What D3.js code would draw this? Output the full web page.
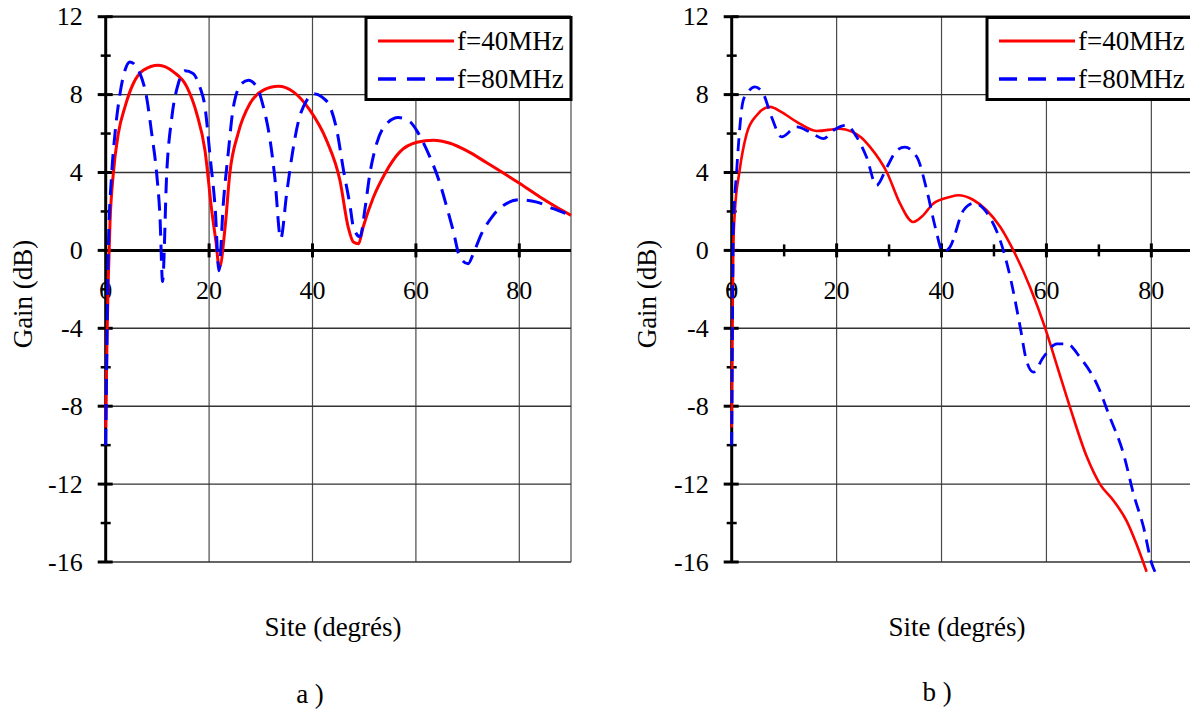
<!DOCTYPE html>
<html><head><meta charset="utf-8">
<script src="https://cdn.jsdelivr.net/npm/d3@7"></script>
<style>html,body{margin:0;padding:0;background:#fff;overflow:hidden}</style>
</head><body><svg id="c" width="1190" height="709"></svg>
<script>
// ---------- data ----------
const xTickLabels = [0, 20, 40, 60, 80];
const yTickLabels = [12, 8, 4, 0, -4, -8, -12, -16];
const seriesNames = ["f=40MHz", "f=80MHz"];
const panelLabels = ["a )", "b )"];
const xTitle = "Site (degrés)";
const yTitle = "Gain (dB)";

// panel a, f = 40 MHz
const siteA40 = [0, 0.25, 0.5, 0.83, 1.47, 2.44, 3.73, 5.34, 7.27, 10.2, 13.1, 15.7, 17.6, 19.2, 20.5, 21.3, 22.0, 23.1, 24.0, 25.6, 27.9, 30.5, 33.4, 36.3, 39.5, 42.7, 45.3, 46.9, 47.9, 48.9, 49.8, 51.8, 54.0, 56.9, 60.2, 63.4, 66.6, 69.8, 73.7, 77.6, 80.1, 84.0, 87.0, 90];
const gainA40 = [-9.1, -4.5, -1.5, 1.4, 3.94, 6.0, 7.37, 8.57, 9.25, 9.51, 9.17, 8.4, 7.03, 5.14, 2.06, 0.5, -0.9, 1.2, 3.94, 6.0, 7.54, 8.23, 8.43, 8.14, 7.2, 5.66, 3.6, 1.2, 0.43, 0.34, 1.2, 2.74, 3.94, 5.06, 5.55, 5.66, 5.5, 5.12, 4.5, 3.86, 3.43, 2.74, 2.25, 1.8];
// panel a, f = 80 MHz
const siteA80 = [0, 0.25, 0.5, 1.16, 1.8, 2.77, 3.73, 4.7, 6.63, 7.9, 8.9, 9.86, 10.5, 11.0, 11.8, 12.8, 14.05, 15.3, 16.9, 18.2, 19.2, 20.2, 21.2, 21.9, 22.75, 23.7, 24.7, 26.3, 27.6, 29.2, 30.5, 31.8, 32.7, 33.85, 35.0, 36.0, 37.25, 38.9, 40.2, 41.8, 43.4, 44.7, 46.0, 47.3, 47.9, 49.2, 50.2, 51.1, 52.4, 54.35, 56.6, 58.9, 60.5, 62.7, 64.7, 66.0, 67.2, 68.5, 70.1, 71.1, 72.7, 74.7, 76.9, 80.1, 83.4, 86.6, 90];
const gainA80 = [-10, -4.5, 0, 3.94, 6.0, 8.05, 9.25, 9.68, 9.08, 7.88, 6.0, 3.94, 1.71, -1.6, 3.94, 6.85, 8.57, 9.22, 9.08, 8.4, 7.37, 4.8, 2.06, -1.05, 2.4, 5.0, 7.37, 8.57, 8.74, 8.4, 7.37, 5.66, 3.77, 0.6, 2.91, 4.8, 6.6, 7.71, 8.05, 7.88, 7.37, 6.17, 4.11, 2.23, 1.2, 0.7, 2.23, 3.94, 5.48, 6.51, 6.82, 6.6, 6.0, 4.8, 3.4, 2.2, 1.03, -0.34, -0.69, -0.17, 0.86, 1.71, 2.31, 2.6, 2.48, 2.14, 1.8];
// panel b, f = 40 MHz
const siteB40 = [0, 0.15, 0.3, 0.6, 1.45, 2.86, 4.77, 7.3, 9.5, 12.4, 16.2, 20.6, 22.9, 24.7, 26.4, 29.6, 32.1, 34.6, 36.5, 38.4, 41.6, 43.2, 46.0, 48.6, 51.2, 53.7, 56.9, 59.7, 62.1, 64.5, 67.7, 70.2, 72.8, 75.3, 77.2, 79.1];
const gainB40 = [-9.1, -4, 0, 2.0, 4.0, 6.0, 6.94, 7.37, 7.1, 6.6, 6.13, 6.25, 6.1, 5.8, 5.3, 4.0, 2.4, 1.46, 1.8, 2.4, 2.74, 2.83, 2.6, 2.06, 1.2, 0, -1.9, -3.94, -6.0, -8.06, -10.6, -12.0, -12.85, -13.9, -15.1, -16.5];
// panel b, f = 80 MHz
const siteB80 = [0, 0.15, 0.3, 0.95, 2.2, 3.3, 4.4, 6.0, 7.6, 9.5, 12.4, 14.9, 17.5, 19.4, 21.9, 23.8, 25.7, 27.6, 29.6, 31.5, 33.0, 35.3, 37.2, 38.8, 40.3, 41.6, 44.2, 46.2, 49.2, 51.2, 53.1, 55.0, 56.2, 57.5, 59.4, 62.0, 63.9, 66.4, 69.6, 72.1, 74.7, 76.6, 78.5, 80.1, 80.7];
const gainB80 = [-10, -4, 1.0, 4.1, 7.7, 8.2, 8.4, 8.05, 6.85, 5.83, 6.34, 6.08, 5.74, 6.17, 6.43, 5.83, 4.8, 3.34, 4.28, 5.14, 5.3, 4.8, 3.08, 1.2, -0.09, 0.17, 2.06, 2.42, 1.7, 0.5, -1.37, -3.94, -5.66, -6.25, -5.49, -4.8, -4.8, -5.49, -6.85, -8.57, -10.45, -12.5, -14.2, -16.1, -16.5];

// ---------- drawing ----------
const FONT = "'Liberation Serif','Times New Roman',serif";
const svg = d3.select("#c");
svg.append("rect").attr("width", 1190).attr("height", 709).attr("fill", "#fff");

function zip(a, b) { return a.map((v, i) => [v, b[i]]); }

function panel(cfg) {
  const g = svg.append("g");
  const x = d3.scaleLinear().domain([0, 90]).range([cfg.x0, cfg.x1]);
  const y = d3.scaleLinear().domain([-16, 12]).range([562, 16.7]);
  const X0 = x(0), Y0 = y(0);

  // vertical grid
  g.selectAll(".vg").data([20, 40, 60, 80, 90]).join("line")
    .attr("x1", d => x(d)).attr("x2", d => x(d))
    .attr("y1", y(12)).attr("y2", y(-16))
    .attr("stroke", "#4a4a4a").attr("stroke-width", 1.2);
  // horizontal grid
  g.selectAll(".hg").data([8, 4, -4, -8, -12, -16]).join("line")
    .attr("x1", X0).attr("x2", x(90))
    .attr("y1", d => y(d)).attr("y2", d => y(d))
    .attr("stroke", "#333").attr("stroke-width", 1.4);
  g.append("line").attr("x1", X0).attr("x2", x(90)).attr("y1", y(12)).attr("y2", y(12))
    .attr("stroke", "#111").attr("stroke-width", 2.2);

  // x tick labels
  g.selectAll(".xl").data(xTickLabels).join("text")
    .attr("x", d => x(d)).attr("y", 290)
    .attr("text-anchor", "middle").attr("dominant-baseline", "central")
    .attr("font-family", FONT).attr("font-size", 26).attr("fill", "#000")
    .text(d => d);
  // y tick labels
  g.selectAll(".yl").data(yTickLabels).join("text")
    .attr("x", X0 - 23).attr("y", d => y(d))
    .attr("text-anchor", "end").attr("dominant-baseline", "central")
    .attr("font-family", FONT).attr("font-size", 26).attr("fill", "#000")
    .text(d => d);

  // axes
  g.append("line").attr("x1", X0).attr("x2", x(90)).attr("y1", Y0).attr("y2", Y0)
    .attr("stroke", "#000").attr("stroke-width", 3);
  g.append("line").attr("x1", X0).attr("x2", X0).attr("y1", y(12)).attr("y2", y(-16))
    .attr("stroke", "#000").attr("stroke-width", 3);
  // y ticks
  const yMaj = d3.range(-16, 13, 4), yMin = d3.range(-14, 12, 4);
  g.selectAll(".ytm").data(yMaj).join("line")
    .attr("x1", X0 - 8).attr("x2", X0 + 7).attr("y1", d => y(d)).attr("y2", d => y(d))
    .attr("stroke", "#000").attr("stroke-width", 3);
  g.selectAll(".ytn").data(yMin).join("line")
    .attr("x1", X0 - 5).attr("x2", X0 + 5).attr("y1", d => y(d)).attr("y2", d => y(d))
    .attr("stroke", "#000").attr("stroke-width", 2.5);
  // x ticks
  g.selectAll(".xtm").data([20, 40, 60, 80]).join("line")
    .attr("x1", d => x(d)).attr("x2", d => x(d)).attr("y1", Y0 - 7).attr("y2", Y0 + 7)
    .attr("stroke", "#000").attr("stroke-width", 3);
  if (cfg.minorX) {
    g.selectAll(".xtn").data([10, 30, 50, 70]).join("line")
      .attr("x1", d => x(d)).attr("x2", d => x(d)).attr("y1", Y0 - 6).attr("y2", Y0 + 6)
      .attr("stroke", "#000").attr("stroke-width", 2.5);
  }

  // series
  const line = d3.line().x(d => x(d[0])).y(d => y(d[1])).curve(d3.curveMonotoneX);
  g.append("path").datum(zip(cfg.s40, cfg.g40)).attr("d", line)
    .attr("fill", "none").attr("stroke", "#ff0000").attr("stroke-width", cfg.lw40);
  g.append("path").datum(zip(cfg.s80, cfg.g80)).attr("d", line)
    .attr("fill", "none").attr("stroke", "#0000ff").attr("stroke-width", cfg.lw80)
    .attr("stroke-dasharray", cfg.dash);

  // legend
  const L = cfg.legend;
  g.append("rect").attr("x", L.x).attr("y", 17.5).attr("width", L.w).attr("height", 82)
    .attr("fill", "#fff").attr("stroke", "#000").attr("stroke-width", 3);
  g.append("line").attr("x1", L.x + 12).attr("x2", L.x + 88).attr("y1", 41).attr("y2", 41)
    .attr("stroke", "#ff0000").attr("stroke-width", 3);
  g.append("line").attr("x1", L.x + 12).attr("x2", L.x + 88).attr("y1", 79).attr("y2", 79)
    .attr("stroke", "#0000ff").attr("stroke-width", 3.5).attr("stroke-dasharray", "18,11");
  g.selectAll(".lt").data(seriesNames).join("text")
    .attr("x", L.x + 91).attr("y", (d, i) => i ? 79 : 41)
    .attr("dominant-baseline", "central")
    .attr("font-family", FONT).attr("font-size", 27).attr("fill", "#000")
    .text(d => d);

  // titles
  g.append("text").attr("transform", `translate(${cfg.yTitleX},294) rotate(-90)`)
    .attr("text-anchor", "middle").attr("dominant-baseline", "central")
    .attr("font-family", FONT).attr("font-size", 27).text(yTitle);
  g.append("text").attr("x", cfg.xTitleX).attr("y", 627)
    .attr("text-anchor", "middle").attr("dominant-baseline", "central")
    .attr("font-family", FONT).attr("font-size", 27).text(xTitle);
  g.append("text").attr("x", cfg.subX).attr("y", cfg.subY)
    .attr("text-anchor", "middle").attr("dominant-baseline", "central")
    .attr("font-family", FONT).attr("font-size", 27).text(cfg.sub);
}

panel({
  x0: 105.7, x1: 571, s40: siteA40, g40: gainA40, s80: siteA80, g80: gainA80,
  lw40: 3, lw80: 3, dash: "16,9", minorX: false,
  legend: { x: 366, w: 205 }, yTitleX: 22.5, xTitleX: 333, sub: panelLabels[0], subX: 310, subY: 694
});
panel({
  x0: 731.7, x1: 1203.8, s40: siteB40, g40: gainB40, s80: siteB80, g80: gainB80,
  lw40: 2.6, lw80: 2.8, dash: "13,8", minorX: true,
  legend: { x: 987, w: 230 }, yTitleX: 647, xTitleX: 957, sub: panelLabels[1], subX: 937, subY: 692
});
</script></body></html>
